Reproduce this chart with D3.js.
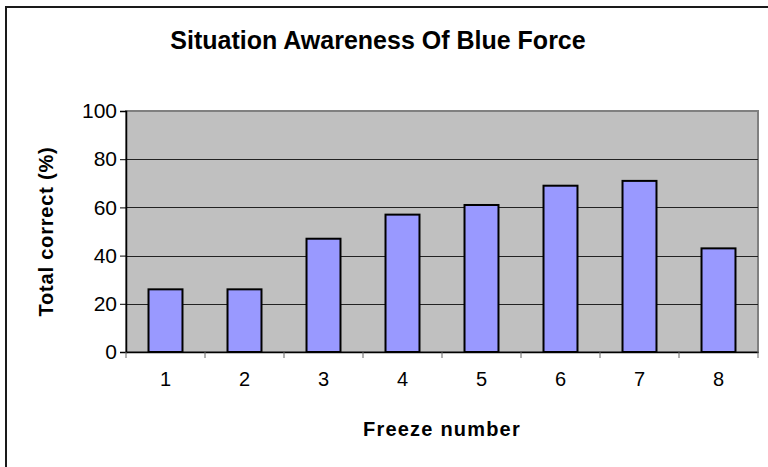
<!DOCTYPE html>
<html>
<head>
<meta charset="utf-8">
<script src="https://cdn.jsdelivr.net/npm/d3@7"></script>
<style>
  html, body { margin: 0; padding: 0; background: #fff; }
  svg { display: block; }
  text { font-family: "Liberation Sans", Arial, sans-serif; fill: #000; }
</style>
</head>
<body>
<svg id="chart" width="768" height="467"></svg>
<script>
// Freeze numbers and percentage of blue-force items answered correctly
const freezes = ["1", "2", "3", "4", "5", "6", "7", "8"];
const totalCorrect = [26, 26, 47, 57, 61, 69, 71, 43];
const yTicks = [0, 20, 40, 60, 80, 100];

const svg = d3.select("#chart");
const plot = { left: 126, right: 758, top: 111, bottom: 352 };

// chart-area frame (only its left and top edges fall inside the page)
svg.append("rect")
  .attr("x", 6).attr("y", 7).attr("width", 820).attr("height", 520)
  .attr("fill", "#fff").attr("stroke", "#1a1a1a").attr("stroke-width", 2);

const x = d3.scaleBand()
  .domain(freezes)
  .range([plot.left, plot.right])
  .paddingInner(0.57)
  .paddingOuter(0.285);

const y = d3.scaleLinear()
  .domain([0, 100])
  .range([plot.bottom, plot.top]);

// plot background
svg.append("rect")
  .attr("x", plot.left).attr("y", plot.top)
  .attr("width", plot.right - plot.left).attr("height", plot.bottom - plot.top)
  .attr("fill", "#c0c0c0").attr("stroke", "#808080").attr("stroke-width", 2);

// horizontal gridlines
svg.append("g")
  .selectAll("line")
  .data(yTicks.filter(d => d > 0 && d < 100))
  .join("line")
  .attr("x1", plot.left).attr("x2", plot.right)
  .attr("y1", d => Math.round(y(d)) + 0.5).attr("y2", d => Math.round(y(d)) + 0.5)
  .attr("stroke", "#222").attr("stroke-width", 1);

// bars
svg.append("g")
  .selectAll("rect")
  .data(freezes.map((f, i) => ({ f, v: totalCorrect[i] })))
  .join("rect")
  .attr("x", d => x(d.f))
  .attr("y", d => y(d.v))
  .attr("width", x.bandwidth())
  .attr("height", d => y(0) - y(d.v))
  .attr("fill", "#9999ff")
  .attr("stroke", "#000")
  .attr("stroke-width", 2);

// y axis
const yAxis = svg.append("g")
  .attr("transform", `translate(${plot.left},0)`)
  .call(d3.axisLeft(y).tickValues(yTicks).tickSize(6).tickPadding(3));
yAxis.select(".domain").attr("stroke", "#000").attr("stroke-width", 1.5);
yAxis.selectAll(".tick line").attr("stroke", "#000");
yAxis.selectAll(".tick text")
  .attr("font-family", "Liberation Sans, Arial, sans-serif")
  .attr("font-size", 21).attr("fill", "#000");

// x axis: labels centred in bands, tick marks on band boundaries
const xAxis = svg.append("g")
  .attr("transform", `translate(0,${plot.bottom})`)
  .call(d3.axisBottom(x).tickSize(0).tickPadding(20));
xAxis.select(".domain").attr("stroke", "#000").attr("stroke-width", 1.5);
xAxis.selectAll(".tick text")
  .attr("font-family", "Liberation Sans, Arial, sans-serif")
  .attr("font-size", 20).attr("fill", "#000");

const step = x.step();
const bounds = d3.range(freezes.length + 1).map(i => plot.left + i * step);
xAxis.append("g")
  .selectAll("line")
  .data(bounds)
  .join("line")
  .attr("x1", d => d).attr("x2", d => d)
  .attr("y1", 0).attr("y2", 6)
  .attr("stroke", "#666").attr("stroke-width", 1);

// titles
svg.append("text")
  .attr("x", 378).attr("y", 49)
  .attr("text-anchor", "middle")
  .attr("font-size", 25).attr("font-weight", "bold")
  .text("Situation Awareness Of Blue Force");

svg.append("text")
  .attr("x", 442).attr("y", 436)
  .attr("text-anchor", "middle")
  .attr("font-size", 20).attr("font-weight", "bold")
  .attr("letter-spacing", 1.2)
  .text("Freeze number");

svg.append("text")
  .attr("transform", `translate(53,${(plot.top + plot.bottom) / 2}) rotate(-90)`)
  .attr("text-anchor", "middle")
  .attr("font-size", 20).attr("font-weight", "bold")
  .attr("letter-spacing", 0.8)
  .text("Total correct (%)");
</script>
</body>
</html>
